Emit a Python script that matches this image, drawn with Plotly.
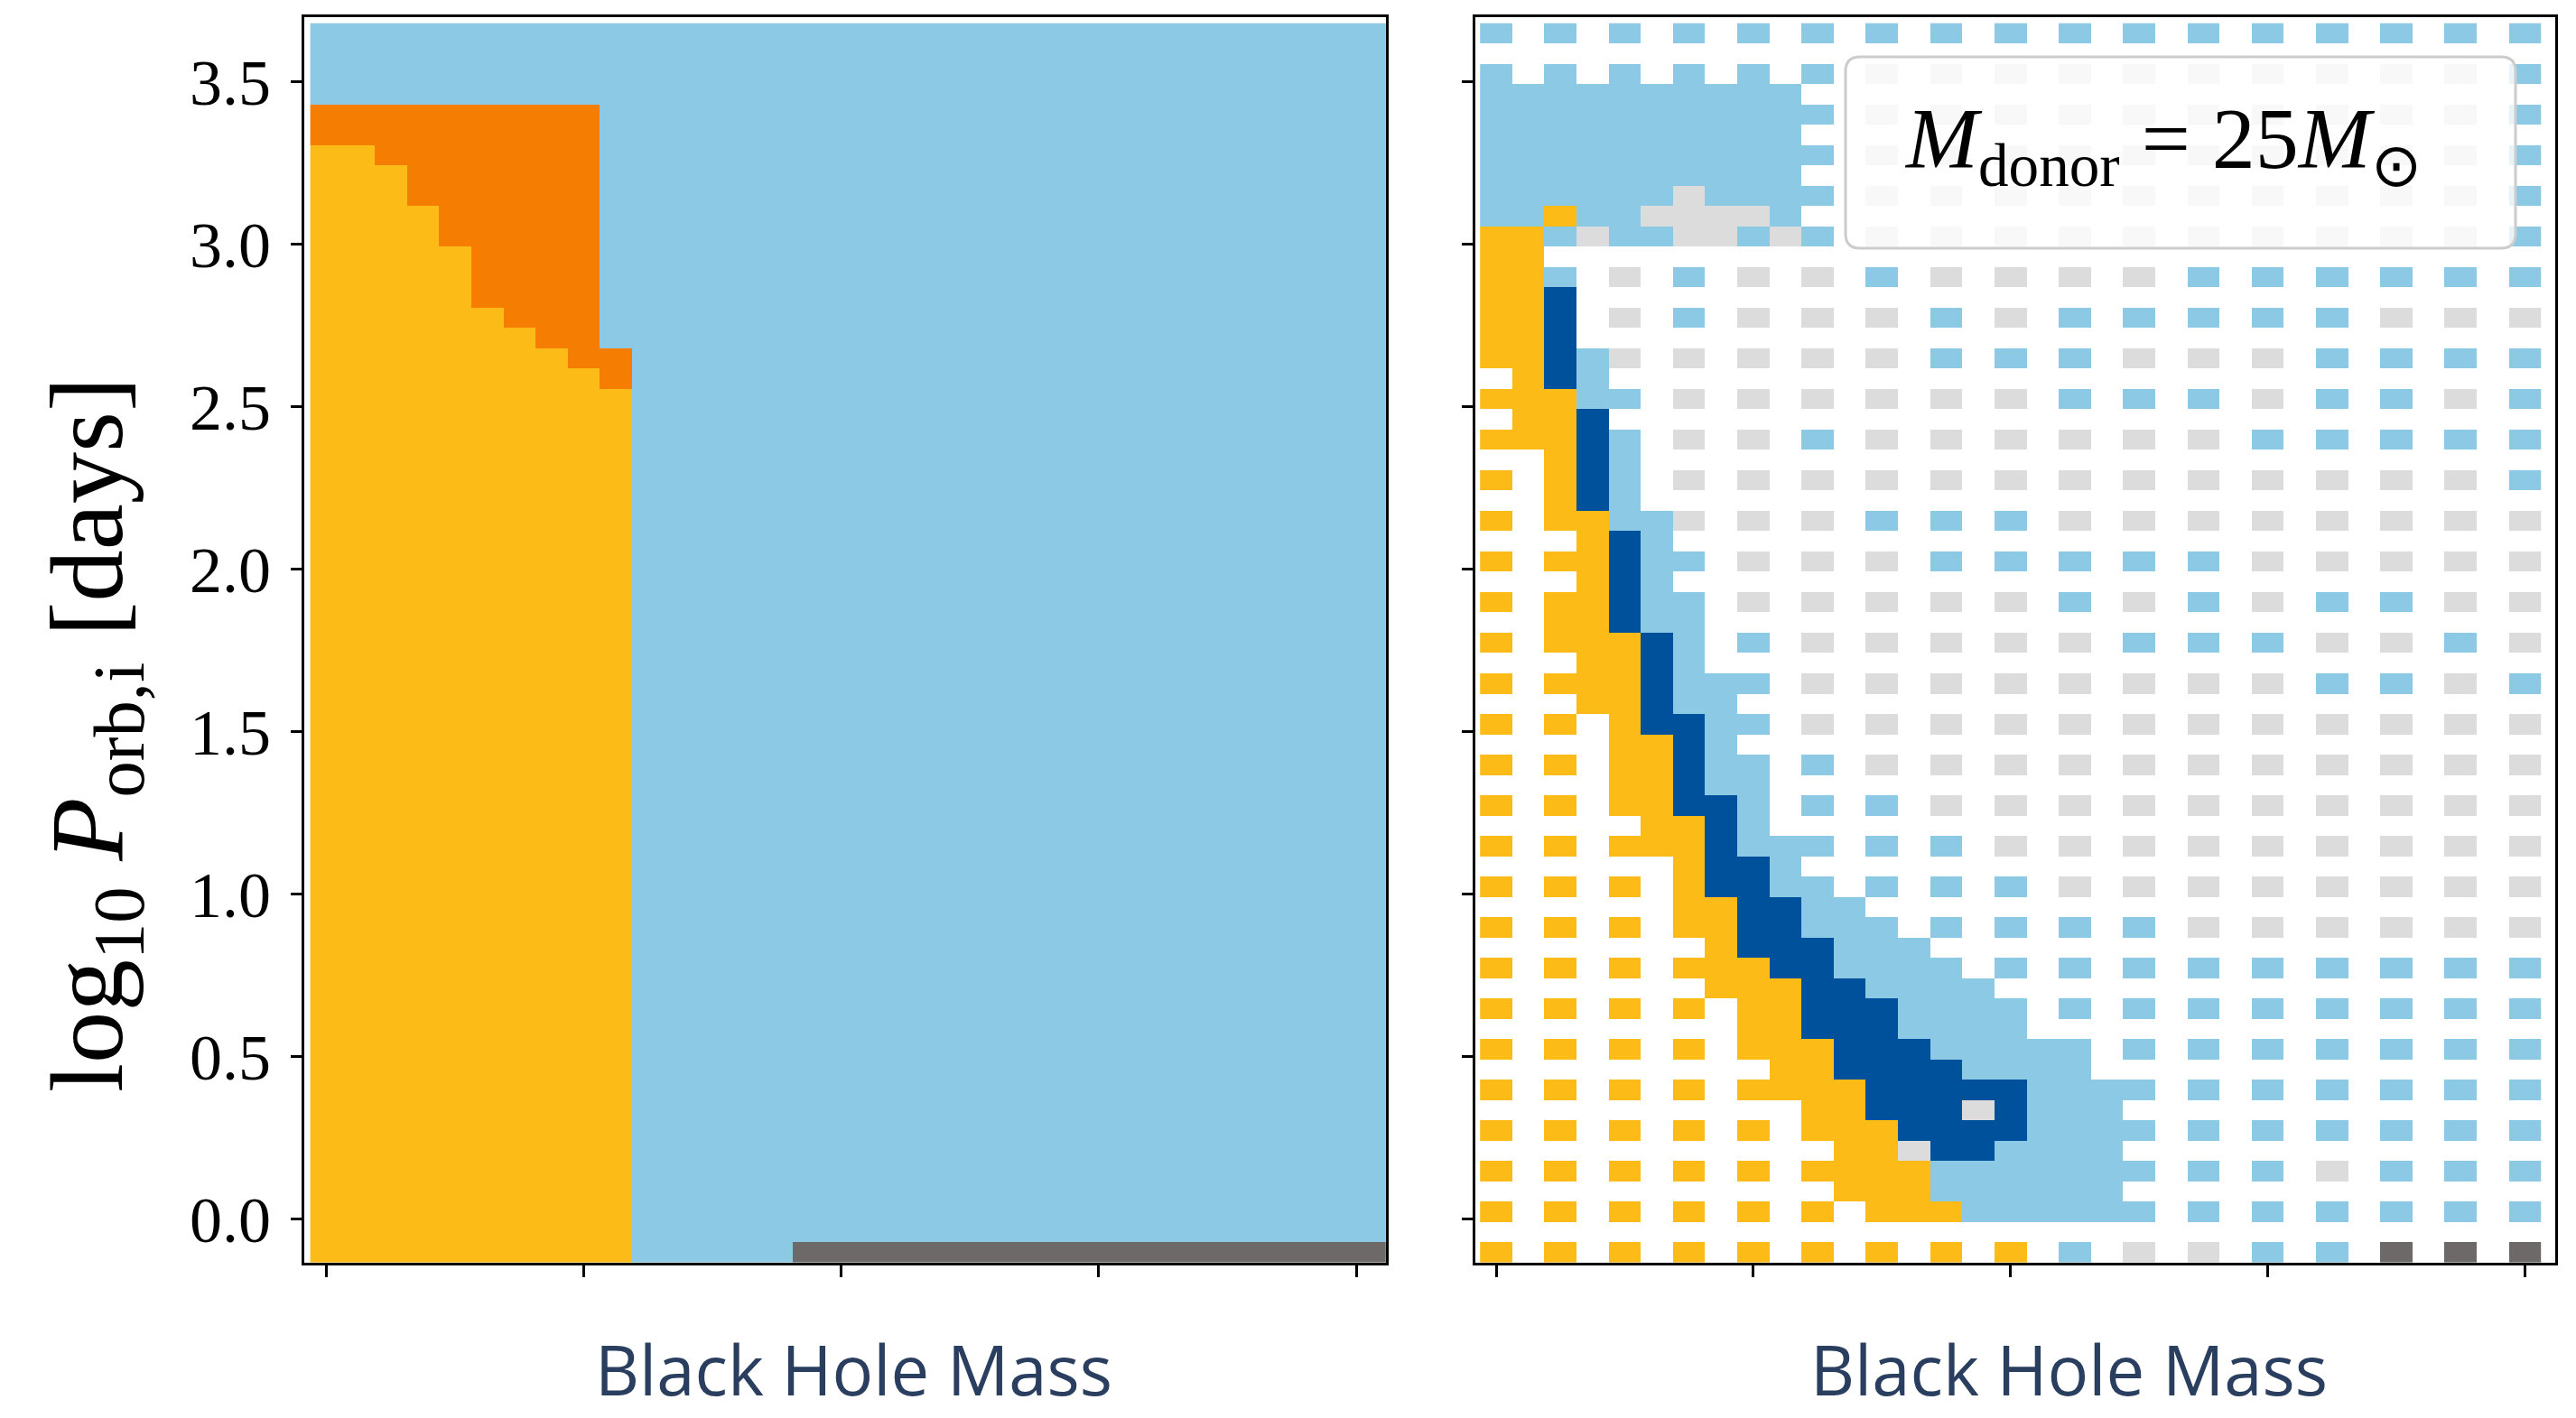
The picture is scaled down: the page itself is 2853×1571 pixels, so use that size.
import numpy as np
import plotly.graph_objects as go

W, H = 2853, 1571

# ---------------------------------------------------------------------------
# Grids
# ---------------------------------------------------------------------------
# black-hole mass grid: one column per mass step (the axis is unlabelled)
mass_left = [0, 1, 2, 3, 4, 5, 6, 7, 8, 9, 10, 11, 12, 13, 14, 15, 16,
             17, 18, 19, 20, 21, 22, 23, 24, 25, 26, 27, 28, 29, 30, 31, 32, 33]
mass_right = [0, 1, 2, 3, 4, 5, 6, 7, 8, 9, 10, 11, 12, 13, 14, 15, 16,
              17, 18, 19, 20, 21, 22, 23, 24, 25, 26, 27, 28, 29, 30, 31, 32]
mass_ticks = [0, 8, 16, 24, 32]

# log10 of the initial orbital period [days], centre of each grid row
log_p = [-0.1, -0.0375, 0.025, 0.0875, 0.15, 0.2125, 0.275, 0.3375, 0.4,
         0.4625, 0.525, 0.5875, 0.65, 0.7125, 0.775, 0.8375, 0.9, 0.9625,
         1.025, 1.0875, 1.15, 1.2125, 1.275, 1.3375, 1.4, 1.4625, 1.525,
         1.5875, 1.65, 1.7125, 1.775, 1.8375, 1.9, 1.9625, 2.025, 2.0875,
         2.15, 2.2125, 2.275, 2.3375, 2.4, 2.4625, 2.525, 2.5875, 2.65,
         2.7125, 2.775, 2.8375, 2.9, 2.9625, 3.025, 3.0875, 3.15, 3.2125,
         3.275, 3.3375, 3.4, 3.4625, 3.525, 3.5875, 3.65]
logp_ticks = [0.0, 0.5, 1.0, 1.5, 2.0, 2.5, 3.0, 3.5]
logp_tick_text = ["0.0", "0.5", "1.0", "1.5", "2.0", "2.5", "3.0", "3.5"]

# outcome codes -> colours
outcome_codes = {"Y": 0, "O": 1, "B": 2, "D": 3, "g": 4, "K": 5}
outcome_colours = ["#FDBB18", "#F57E02", "#8BC9E4", "#00519B", "#DCDCDC", "#6E6969"]

# ---------------------------------------------------------------------------
# Left panel: boundaries per mass column
# ---------------------------------------------------------------------------
# highest log P of the "Y" outcome and of the "O" outcome in columns 0-9
left_yellow_top = [3.275, 3.275, 3.2125, 3.0875, 2.9625, 2.775, 2.7125, 2.65, 2.5875, 2.525]
left_orange_top = [3.4, 3.4, 3.4, 3.4, 3.4, 3.4, 3.4, 3.4, 3.4, 2.65]
# columns whose shortest period ends in the "K" outcome
left_dark_cols = [15, 16, 17, 18, 19, 20, 21, 22, 23, 24, 25, 26, 27, 28, 29, 30, 31, 32, 33]

# ---------------------------------------------------------------------------
# Right panel: outcome per grid cell, longest period first ('.' = no model)
# ---------------------------------------------------------------------------
right_rows = [
    "B.B.B.B.B.B.B.B.B.B.B.B.B.B.B.B.B",   # 3.65
    "",
    "B.B.B.B.B.B.g.g.g.g.g.g.g.g.g.g.B",
    "BBBBBBBBBB",
    "BBBBBBBBBBB.g.g.g.g.g.g.g.g.g.g.B",
    "BBBBBBBBBB",
    "BBBBBBBBBBB.g.g.g.g.g.g.g.g.g.g.B",
    "BBBBBBBBBB",
    "BBBBBBgBBBB.g.g.g.g.g.g.g.g.g.g.B",
    "BBYBBggggB",
    "YYBgBBggBgB.g.g.g.g.g.g.g.g.g.g.B",   # 3.025
    "YY",
    "YYB.g.B.g.g.B.g.g.g.g.B.B.B.B.B.B",
    "YYD",
    "YYD.g.B.g.g.g.B.g.B.B.B.B.B.g.g.g",
    "YYD",
    "YYDBg.g.g.g.g.B.B.B.g.g.g.B.B.B.B",
    ".YDB",
    "YYYBB.g.g.g.g.g.g.B.B.B.g.B.B.g.B",
    ".YYD",
    "YYYDB.g.g.B.g.g.g.g.g.g.B.B.B.B.B",   # 2.4
    "..YDB",
    "Y.YDB.g.g.g.g.g.g.g.g.g.g.g.g.g.B",
    "..YDB",
    "Y.YYBBg.g.g.B.B.B.g.g.g.g.g.g.g.g",
    "...YDB",
    "Y.YYDBB.g.g.g.B.B.B.B.B.g.g.g.g.g",
    "...YDB",
    "Y.YYDBB.g.g.g.g.g.B.g.B.g.B.B.g.g",
    "..YYDBB",
    "Y.YYYDB.B.g.g.g.g.g.B.B.B.g.g.B.g",   # 1.775
    "...YYDB",
    "Y.YYYDBBB.g.g.g.g.g.g.g.g.B.B.g.B",
    "...YYDBB",
    "Y.Y.YDDBB.g.g.g.g.g.g.g.g.g.g.g.g",
    "....YYDB",
    "Y.Y.YYDBB.B.g.g.g.g.g.g.g.g.g.g.g",
    "....YYDBB",
    "Y.Y.YYDDB.B.B.g.g.g.g.g.g.g.g.g.g",
    ".....YYDB",
    "Y.Y.YYYDBBB.B.B.g.g.g.g.g.g.g.g.g",   # 1.15
    "......YDDB",
    "Y.Y.Y.YDDBB.B.B.B.g.g.g.g.g.g.g.g",
    "......YYDDBB",
    "Y.Y.Y.YYDDBBB.B.B.B.B.g.g.g.g.g.g",
    ".......YDDDBBB",
    "Y.Y.Y.YYYDDBBBB.B.B.B.B.B.B.B.B.B",
    ".......YYYDDBBBB",
    "Y.Y.Y.Y.YYDDDBBBB.B.B.B.B.B.B.B.B",
    "........YYDDDBBBB",
    "Y.Y.Y.Y.YYYDDDBBBBB.B.B.B.B.B.B.B",   # 0.525
    ".........YYDDDDBBBB",
    "Y.Y.Y.Y.YYYYDDDDDBBBB.B.B.B.B.B.B",
    "..........YYDDDgDBBB",
    "Y.Y.Y.Y.Y.YYYDDDDBBBB.B.B.B.B.B.B",
    "...........YYgDDBBBB",
    "Y.Y.Y.Y.Y.YYYYBBBBBBB.B.B.g.B.B.B",
    "...........YYYBBBBBB",
    "Y.Y.Y.Y.Y.Y.YYYBBBBBB.B.B.B.B.B.B",
    "",
    "Y.Y.Y.Y.Y.Y.Y.Y.Y.B.g.g.B.B.K.K.K",   # -0.1
]

# ---------------------------------------------------------------------------
# Build the cell matrices
# ---------------------------------------------------------------------------
n_rows, n_left, n_right = len(log_p), len(mass_left), len(mass_right)

z_left = np.full((n_rows, n_left), float(outcome_codes["B"]))
for c in range(len(left_yellow_top)):
    for r, p in enumerate(log_p):
        if p <= left_yellow_top[c] + 1e-9:
            z_left[r, c] = outcome_codes["Y"]
        elif p <= left_orange_top[c] + 1e-9:
            z_left[r, c] = outcome_codes["O"]
for c in left_dark_cols:
    z_left[0, c] = outcome_codes["K"]

z_right = np.full((n_rows, n_right), np.nan)
for i, row in enumerate(right_rows):
    r = n_rows - 1 - i
    for c, ch in enumerate(row[:n_right]):
        if ch in outcome_codes:
            z_right[r, c] = outcome_codes[ch]

n_col = len(outcome_colours)
colorscale = []
for i, col in enumerate(outcome_colours):
    colorscale.append([i / n_col, col])
    colorscale.append([(i + 1) / n_col, col])

fig = go.Figure()
for z, xs, xa, ya in ((z_left, mass_left, "x", "y"), (z_right, mass_right, "x2", "y2")):
    fig.add_trace(go.Heatmap(
        x=xs, y=log_p, z=z, colorscale=colorscale, zmin=-0.5, zmax=n_col - 0.5,
        showscale=False, hoverinfo="skip", xaxis=xa, yaxis=ya,
    ))

# ---------------------------------------------------------------------------
# Axes
# ---------------------------------------------------------------------------
def px_x(v):
    return v / W


def px_y(v):
    return 1 - v / H


frame = dict(showline=True, linecolor="black", linewidth=2.5, mirror=True,
             showgrid=False, zeroline=False, ticks="outside",
             tickcolor="black", tickwidth=2.5)
y_dom = [px_y(1398.8), px_y(19.2)]
y_rng = [-0.1328, 3.6994]

fig.update_layout(
    width=W, height=H, margin=dict(l=0, r=0, t=0, b=0),
    paper_bgcolor="white", plot_bgcolor="white", showlegend=False,
    xaxis=dict(domain=[px_x(337.2), px_x(1534.8)], range=[-0.68, 32.92],
               tickvals=mass_ticks, showticklabels=False, ticklen=13, anchor="y", **frame),
    yaxis=dict(domain=y_dom, range=y_rng, tickvals=logp_ticks, ticktext=logp_tick_text,
               ticklen=12, ticklabelstandoff=8, anchor="x",
               tickfont=dict(family="Liberation Serif", size=72, color="black"), **frame),
    xaxis2=dict(domain=[px_x(1633.7), px_x(2829.8)], range=[-0.655, 32.94],
                tickvals=mass_ticks, showticklabels=False, ticklen=13, anchor="y2", **frame),
    yaxis2=dict(domain=y_dom, range=y_rng, tickvals=logp_ticks, showticklabels=False,
                ticklen=12, anchor="x2", **frame),
)

# ---------------------------------------------------------------------------
# Legend box with the donor mass
# ---------------------------------------------------------------------------
bx0, bx1, by0, by1, rad = 2044, 2786, 63, 275, 16


def pt(x, y):
    return f"{px_x(x):.6f},{px_y(y):.6f}"


box_path = (
    f"M {pt(bx0 + rad, by0)} L {pt(bx1 - rad, by0)} Q {pt(bx1, by0)} {pt(bx1, by0 + rad)} "
    f"L {pt(bx1, by1 - rad)} Q {pt(bx1, by1)} {pt(bx1 - rad, by1)} "
    f"L {pt(bx0 + rad, by1)} Q {pt(bx0, by1)} {pt(bx0, by1 - rad)} "
    f"L {pt(bx0, by0 + rad)} Q {pt(bx0, by0)} {pt(bx0 + rad, by0)} Z"
)
fig.add_shape(type="path", path=box_path, xref="paper", yref="paper",
              fillcolor="rgba(255,255,255,0.8)", line=dict(color="#CCCCCC", width=3),
              layer="above")

fig.add_annotation(
    x=px_x(2395), y=px_y(160), xref="paper", yref="paper", showarrow=False,
    xanchor="center", yanchor="middle",
    text="<i>M</i><sub>donor</sub> = 25<i>M</i><sub>⊙</sub>",
    font=dict(family="Liberation Serif", size=96, color="black"),
)

# axis titles
fig.add_annotation(
    x=px_x(104), y=px_y(814), xref="paper", yref="paper", showarrow=False,
    xanchor="center", yanchor="middle", textangle=-90,
    text="log<sub>10</sub> <i>P</i><sub>orb,i</sub> [days]",
    font=dict(family="Liberation Serif", size=115, color="black"),
)
for cx in (945.5, 2291):
    fig.add_annotation(
        x=px_x(cx), y=px_y(1516), xref="paper", yref="paper", showarrow=False,
        xanchor="center", yanchor="middle", text="Black Hole Mass",
        font=dict(family="Open Sans", size=76, color="#2a3f5f"),
    )

fig.write_html("out.html")
